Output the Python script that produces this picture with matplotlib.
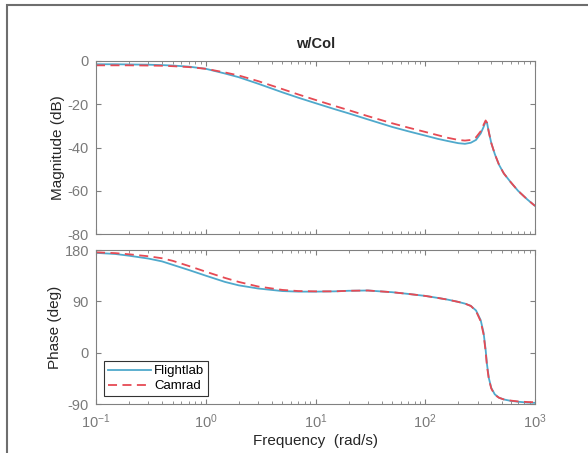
import numpy as np
import matplotlib as mpl
mpl.use('Agg')
import matplotlib.pyplot as plt
from matplotlib.patches import Rectangle

plt.rcParams['font.family'] = ['Liberation Sans', 'DejaVu Sans']
plt.rcParams['axes.unicode_minus'] = False
plt.rcParams['mathtext.fontset'] = 'custom'
plt.rcParams['mathtext.rm'] = 'Liberation Sans'
plt.rcParams['mathtext.it'] = 'Liberation Sans'

# frequency points (rad/s)
freq = [0.1, 0.15, 0.2, 0.3, 0.4, 0.5, 0.7, 1, 1.5, 2, 3, 5, 7, 10, 15, 20, 30, 50, 70,
        100, 130, 160, 200, 230, 260, 290, 320, 340, 355, 365, 380, 400, 430, 470, 520,
        600, 700, 850, 1000]

mag_flightlab = [-1.5, -1.5, -1.6, -1.7, -1.9, -2.1, -2.6, -3.6, -5.8, -7.5, -10.5, -14.5,
                 -17.0, -19.5, -22.3, -24.2, -27.0, -30.5, -32.5, -34.5, -36.0, -37.0, -38.0,
                 -38.3, -37.8, -36.5, -33.5, -30.5, -28.0, -28.5, -33.0, -38.0, -43.0, -48.0,
                 -52.0, -56.0, -60.0, -64.0, -67.0]
mag_camrad = [-2.0, -2.0, -2.0, -2.1, -2.2, -2.4, -2.8, -3.6, -5.3, -6.7, -9.3, -13.0,
              -15.5, -18.0, -20.8, -22.7, -25.5, -28.8, -30.8, -32.8, -34.3, -35.5, -36.5,
              -36.8, -36.5, -35.3, -32.5, -29.5, -27.5, -28.5, -33.0, -38.0, -43.0, -48.0,
              -52.0, -56.0, -60.0, -64.0, -67.0]

phase_flightlab = [175, 173, 170, 165, 160, 154, 145, 135, 124, 118, 112.5, 108, 107, 107,
                   107.5, 108.5, 109, 106, 103, 99.5, 96, 93, 89, 86, 82, 74, 57, 35, 5,
                   -20, -45, -62, -73, -79, -82, -84.5, -86, -87.5, -88]
phase_camrad = [176, 174.5, 172.5, 169, 165.5, 161, 152, 142, 131, 124, 116, 110, 108,
                107.5, 107.5, 108.5, 109, 106, 103, 99.5, 96, 93, 89, 86, 82, 73, 55, 32,
                2, -23, -47, -63, -74, -79, -82, -84, -85.5, -86.5, -87]

mag_ticks = [-80, -60, -40, -20, 0]
phase_ticks = [-90, 0, 90, 180]

BLUE = '#4fa9cc'
RED = '#e64a54'
AX_COLOR = '#808080'
LABEL_COLOR = '#262626'

fig = plt.figure(figsize=(5.88, 4.53), dpi=100)
fig.patches.append(Rectangle((6.5 / 588, -0.05), 1.2, 1.05 - 5.5 / 453,
                             transform=fig.transFigure, fill=False,
                             edgecolor='#6e6e6e', lw=1.5))

ax1 = fig.add_axes([96 / 588, 1 - 234 / 453, (535 - 96) / 588, (234 - 61) / 453])
ax2 = fig.add_axes([96 / 588, 1 - 404 / 453, (535 - 96) / 588, (404 - 250) / 453])

ax1.semilogx(freq, mag_flightlab, color=BLUE, lw=1.3, label='Flightlab')
ax1.semilogx(freq, mag_camrad, color=RED, lw=1.3, ls=(0, (5, 3)), label='Camrad')
ax2.semilogx(freq, phase_flightlab, color=BLUE, lw=1.3, label='Flightlab')
ax2.semilogx(freq, phase_camrad, color=RED, lw=1.3, ls=(0, (5, 3)), label='Camrad')

ax1.set_ylim(-80, 0)
ax1.set_yticks(mag_ticks)
ax2.set_ylim(-90, 180)
ax2.set_yticks(phase_ticks)

for ax in (ax1, ax2):
    ax.set_xlim(0.1, 1000)
    ax.tick_params(which='both', direction='in', top=True, right=True,
                   colors=AX_COLOR, labelcolor='#7a7a7a', labelsize=10.5)
    ax.tick_params(axis='y', pad=5)
    ax.tick_params(axis='x', pad=6)
    ax.tick_params(which='major', length=3.5)
    ax.tick_params(which='minor', length=2)
    for sp in ax.spines.values():
        sp.set_color(AX_COLOR)
        sp.set_linewidth(0.8)

ax1.tick_params(labelbottom=False)
ax1.set_ylabel('Magnitude (dB)', fontsize=11, color=LABEL_COLOR, labelpad=2)
ax2.set_ylabel('Phase (deg)', fontsize=11, color=LABEL_COLOR, labelpad=2)
ax2.set_xlabel('Frequency  (rad/s)', fontsize=11, color=LABEL_COLOR, labelpad=2)
ax1.set_title('w/Col', fontsize=10.5, fontweight='bold', color=LABEL_COLOR, pad=9)

leg = ax2.legend(loc='lower left', fontsize=9.5, frameon=True, fancybox=False,
                 edgecolor='black', borderpad=0.3, handlelength=3.3,
                 handletextpad=0.2, labelspacing=0.2, borderaxespad=0.6)
leg.get_frame().set_linewidth(0.8)

fig.savefig('out.png', dpi=100)
